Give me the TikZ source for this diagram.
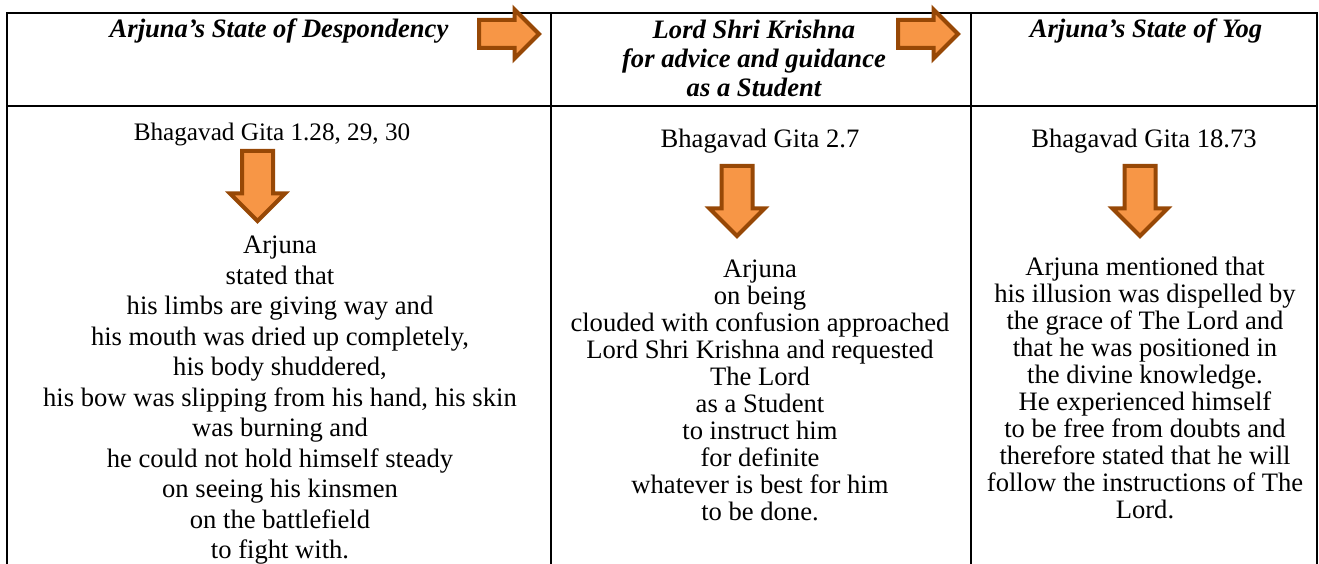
\documentclass[tikz,border=0pt]{standalone}
\usepackage{fontspec}
\setmainfont{Liberation Serif}
\usetikzlibrary{shapes.arrows}
\definecolor{arrowfill}{HTML}{F79646}
\definecolor{arrowline}{HTML}{974806}

\begin{document}
\begin{tikzpicture}[x=1pt,y=-1pt,
  headtext/.style={font=\fontsize{26.6}{29}\selectfont\bfseries\itshape,align=center,inner sep=0pt},
  bodytext/.style={font=\fontsize{26.6}{30.5}\selectfont,align=center,inner sep=0pt},
  rightarrow/.style={single arrow,draw=arrowline,fill=arrowfill,line width=4pt,
    inner xsep=0pt,inner ysep=12pt,single arrow head extend=10.5pt,minimum height=60pt,anchor=tail},
  downarrow/.style={single arrow,draw=arrowline,fill=arrowfill,line width=4pt,
    inner xsep=0pt,inner ysep=13.5pt,single arrow head extend=12pt,minimum height=70pt,
    rotate=-90,anchor=tail}]
\useasboundingbox (0,0) rectangle (1319,564);

% table grid
\draw[line width=2pt] (7,564) -- (7,13) -- (1317,13) -- (1317,564);
\draw[line width=2pt] (7,106) -- (1317,106);
\draw[line width=2pt] (551,13) -- (551,564);
\draw[line width=2pt] (971,13) -- (971,564);

% header row
\node[headtext,anchor=base] (despond) at (279,38) {Arjuna’s State of Despondency};
\node[headtext,anchor=north] (krishna) at (754,20) {Lord Shri Krishna\\for advice and guidance\\as a Student};
\node[headtext,anchor=base] (yog) at (1146,38) {Arjuna’s State of Yog};
\node[rightarrow] (next1) at (477,34) {};
\node[rightarrow] (next2) at (896,34) {};

% first column
\node[bodytext,anchor=base,font=\fontsize{25.2}{30.5}\selectfont] (gita1) at (272,141) {Bhagavad Gita 1.28, 29, 30};
\node[downarrow] (down1) at (257.5,149) {};
\node[bodytext,anchor=north] (state1) at (280,236) {Arjuna\\stated that\\his limbs are giving way and\\his mouth was dried up completely,\\his body shuddered,\\his bow was slipping from his hand, his skin\\was burning and\\he could not hold himself steady\\on seeing his kinsmen\\on the battlefield\\to fight with.};

% second column
\node[bodytext,anchor=base] (gita2) at (760,148) {Bhagavad Gita 2.7};
\node[downarrow] (down2) at (737,164) {};
\node[bodytext,anchor=north,font=\fontsize{26.6}{27}\selectfont] (state2) at (760,260) {Arjuna\\on being\\clouded with confusion approached\\Lord Shri Krishna and requested\\The Lord\\as a Student\\to instruct him\\for definite\\whatever is best for him\\to be done.};

% third column
\node[bodytext,anchor=base] (gita3) at (1144,148) {Bhagavad Gita 18.73};
\node[downarrow] (down3) at (1140,164) {};
\node[bodytext,anchor=north,font=\fontsize{26.6}{27}\selectfont] (state3) at (1145,257) {Arjuna mentioned that\\his illusion was dispelled by\\the grace of The Lord and\\that he was positioned in\\the divine knowledge.\\He experienced himself\\to be free from doubts and\\therefore stated that he will\\follow the instructions of The\\Lord.};
\end{tikzpicture}
\end{document}
